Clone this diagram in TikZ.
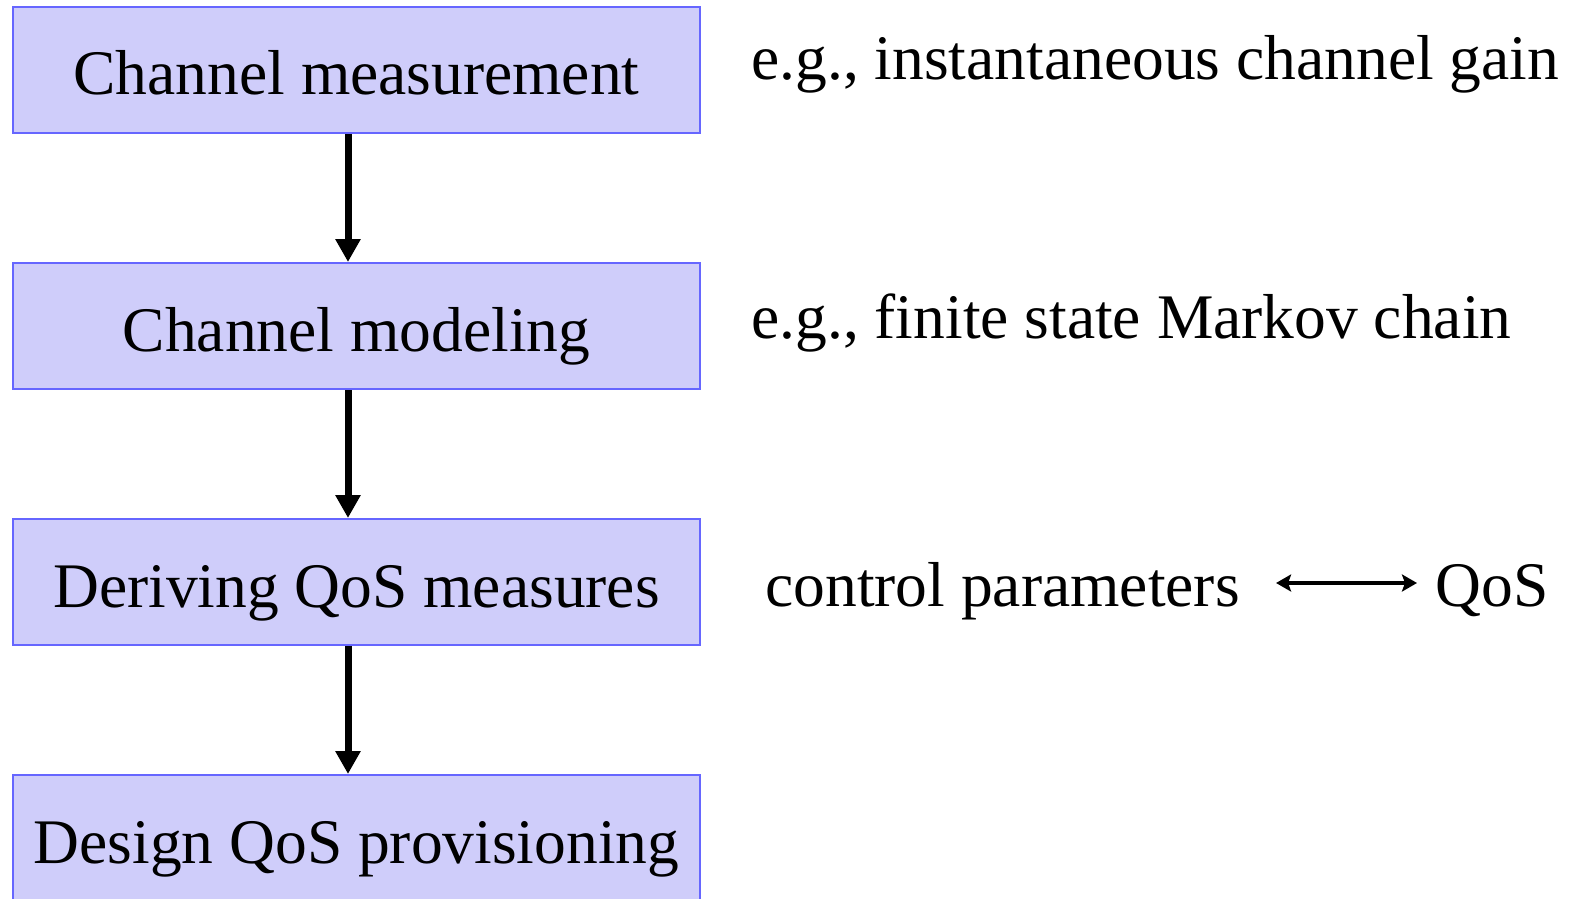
\documentclass[tikz,border=0pt]{standalone}
\usepackage{fontspec}
\setmainfont{Liberation Serif}
\usetikzlibrary{arrows.meta}

\definecolor{boxfill}{RGB}{207,205,250}
\definecolor{boxline}{RGB}{102,102,255}

\begin{document}
\begin{tikzpicture}[
  x=0.5pt, y=-0.5pt,
  every node/.style={font=\fontsize{31.75}{38}\selectfont},
  stagebox/.style={rectangle, draw=boxline, fill=boxfill, line width=1pt,
    minimum width=343.5pt, minimum height=63pt, inner sep=0pt,
    text height=28pt, text depth=3pt},
  note/.style={anchor=base west, inner sep=0pt},
  flow/.style={line width=3.5pt, -{Triangle[width=12pt,length=11.5pt]}}
]
\useasboundingbox (0,0) rectangle (1581,899);
\clip (0,0) rectangle (1581,899);

\node[stagebox] (meas) at (356.5,70) {Channel measurement};
\node[stagebox] (model) at (356.5,326) {Channel modeling};
\node[stagebox] (qosm) at (356.5,582) {Deriving QoS measures};
\node[stagebox] (prov) at (356.5,838) {Design QoS provisioning};

\draw[flow] ([xshift=-4.25pt]meas.south) -- ([xshift=-4.25pt]model.north);
\draw[flow] ([xshift=-4.25pt]model.south) -- ([xshift=-4.25pt]qosm.north);
\draw[flow] ([xshift=-4.25pt]qosm.south) -- ([xshift=-4.25pt]prov.north);

\node[note] (gain) at (751,80) {e.g., instantaneous channel gain};
\node[note] (chain) at (751,338) {e.g., finite state Markov chain};
\node[note] (ctrl) at (765,606) {control parameters};
\node[note] (qos) at (1435,606) {QoS};

\draw[line width=2.25pt, {Stealth[width=8.5pt,length=7.5pt,inset=1.5pt]}-{Stealth[width=8.5pt,length=7.5pt,inset=1.5pt]},
  shorten <=18pt, shorten >=9pt]
  ([yshift=11.5pt]ctrl.base east) -- ([yshift=11.5pt]qos.base west);
\end{tikzpicture}
\end{document}
